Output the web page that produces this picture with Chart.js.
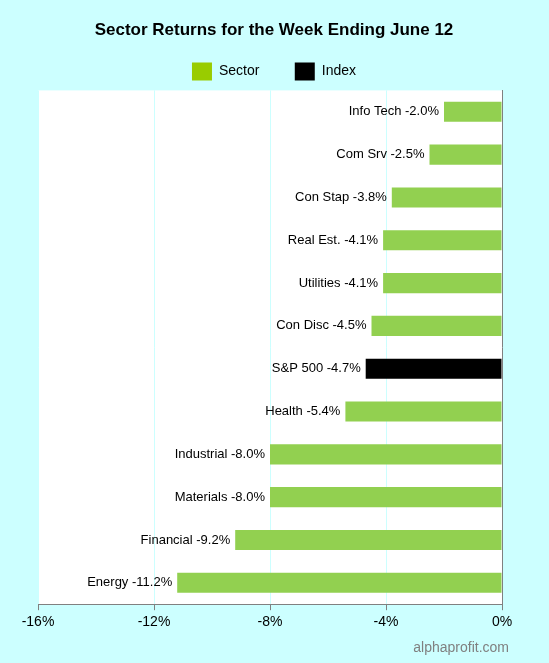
<!DOCTYPE html>
<html><head><meta charset="utf-8">
<script src="https://cdn.jsdelivr.net/npm/chart.js@4"></script>
<style>html,body{margin:0;padding:0;background:#ccffff;}#w{width:549px;height:663px;}</style>
</head><body><div id="w"><canvas id="c"></canvas></div>
<script>
const categories = ["Info Tech","Com Srv","Con Stap","Real Est.","Utilities","Con Disc","S&P 500","Health","Industrial","Materials","Financial","Energy"];
const sectorValues = [-2.0,-2.5,-3.8,-4.1,-4.1,-4.5,null,-5.4,-8.0,-8.0,-9.2,-11.2];
const indexValues = [null,null,null,null,null,null,-4.7,null,null,null,null,null];
const xTicks = [-16,-12,-8,-4,0];

const bgPlugin = {
  id:'bg',
  beforeDraw(chart){
    const {ctx, chartArea:a} = chart;
    ctx.save(); ctx.fillStyle='#ccffff'; ctx.fillRect(0,0,chart.width,chart.height);
    ctx.fillStyle='#ffffff'; ctx.fillRect(a.left,a.top,a.right-a.left,a.bottom-a.top); ctx.restore();
  },
  afterDraw(chart){
    const {ctx} = chart;
    ctx.save(); ctx.font='14px Arial, "Liberation Sans"'; ctx.fillStyle='#808080';
    ctx.textAlign='right'; ctx.textBaseline='middle'; ctx.fillText('alphaprofit.com',509,648);
    ctx.font='13px Arial, "Liberation Sans"'; ctx.fillStyle='#000';
    chart.data.datasets.forEach((ds,di)=>{
      chart.getDatasetMeta(di).data.forEach((bar,i)=>{
        const v = ds.data[i]; if(v===null) return;
        ctx.fillText(categories[i]+' '+v.toFixed(1)+'%', bar.x-5, bar.y);
      });
    });
    ctx.restore();
  }
};

new Chart(document.getElementById('c'),{
  type:'bar',
  data:{labels:categories,datasets:[
    {label:'Sector',data:sectorValues,backgroundColor:'#92d050',borderWidth:0},
    {label:'Index',data:indexValues,backgroundColor:'#000000',borderWidth:0}
  ]},
  options:{
    indexAxis:'y',responsive:true,maintainAspectRatio:false,animation:false,
    layout:{padding:{left:38,right:39,bottom:28}},
    datasets:{bar:{grouped:false,barPercentage:0.47,categoryPercentage:1}},
    plugins:{
      title:{display:true,text:'Sector Returns for the Week Ending June 12',color:'#000',
        font:{family:'Arial, "Liberation Sans"',size:17,weight:'bold'},padding:{top:20,bottom:10}},
      legend:{labels:{color:'#000',boxWidth:20,boxHeight:18,padding:12,
        font:{family:'Arial, "Liberation Sans"',size:14},
        generateLabels(){return [
          {text:'Sector      ',fillStyle:'#99cc00',strokeStyle:'#99cc00',lineWidth:0,datasetIndex:0},
          {text:'Index',fillStyle:'#000',strokeStyle:'#000',lineWidth:0,datasetIndex:1}];}}},
      tooltip:{enabled:false}
    },
    scales:{
      x:{min:-16,max:0,afterBuildTicks(s){s.ticks=xTicks.map(v=>({value:v}));},
        grid:{color:'#ccffff',drawTicks:true,tickLength:6,tickColor:'#808080'},
        border:{display:true,color:'#808080'},
        ticks:{color:'#000',font:{family:'Arial, "Liberation Sans"',size:14},padding:4,callback:v=>v+'%'}},
      y:{display:true,position:'right',grid:{display:false},border:{display:true,color:'#808080'},ticks:{display:false}}
    }
  },
  plugins:[bgPlugin]
});
</script></body></html>
